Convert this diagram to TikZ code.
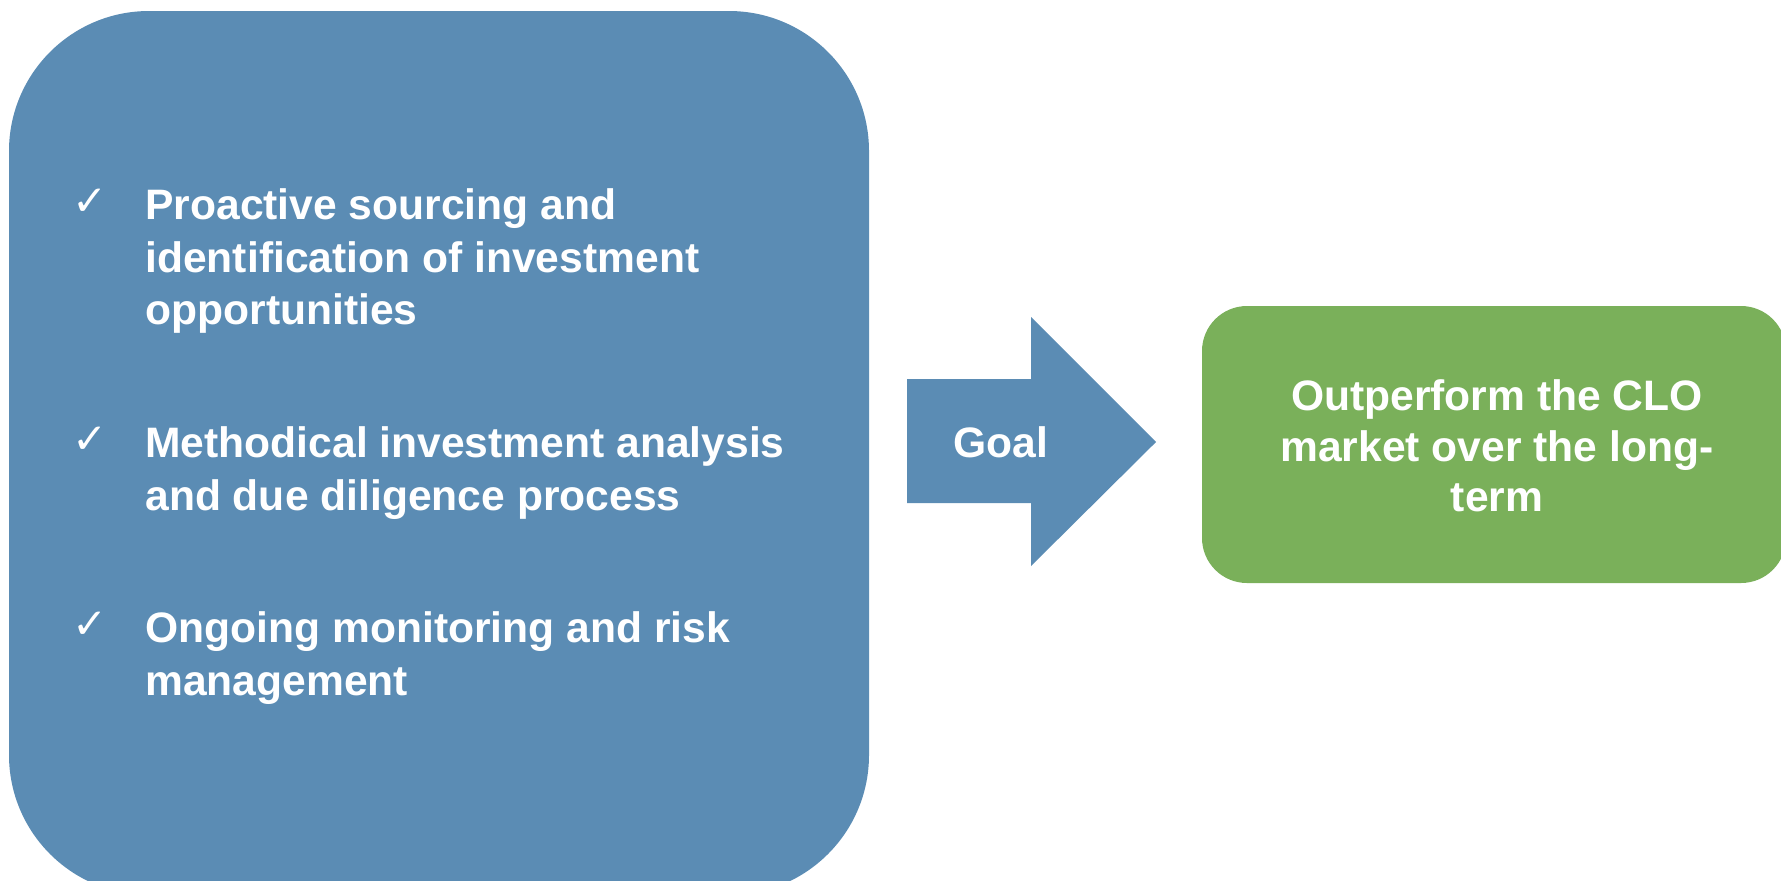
\documentclass[tikz,border=0pt]{standalone}
\usepackage{fontspec}
\setmainfont{Liberation Sans}
\newfontfamily\chkfont{DejaVu Sans}
\definecolor{boxblue}{RGB}{91,140,180}
\definecolor{boxgreen}{RGB}{122,176,90}
\begin{document}
\begin{tikzpicture}[x=0.5pt,y=-0.5pt,
  txt/.style={text=white,font=\fontsize{21.3}{25}\selectfont\bfseries,inner sep=0pt},
  chk/.style={text=white,font=\chkfont\fontsize{21}{25}\selectfont,inner sep=0pt}]
\useasboundingbox (0,0) rectangle (1781,880);
\begin{scope}
\clip (0,0) rectangle (1781,880);
\fill[boxblue,rounded corners=70pt] (9,11) rectangle (869,895);
\fill[boxblue] (907,379) -- (1031,379) -- (1031,317) -- (1156,442) -- (1031,566) -- (1031,503) -- (907,503) -- cycle;
\fill[boxgreen,rounded corners=22.5pt] (1202,306) rectangle (1786,583);
\end{scope}
% checks
\node[chk,anchor=base west] (c1) at (72,215) {✓};
\node[chk,anchor=base west] (c2) at (72,453) {✓};
\node[chk,anchor=base west] (c3) at (72,638) {✓};
% item texts
\node[txt,anchor=base west] (a1) at (145,219) {Proactive sourcing and};
\node[txt,anchor=base west] (a2) at (145,272) {identification of investment};
\node[txt,anchor=base west] (a3) at (145,324) {opportunities};
\node[txt,anchor=base west] (b1) at (145,457) {Methodical investment analysis};
\node[txt,anchor=base west] (b2) at (145,510) {and due diligence process};
\node[txt,anchor=base west] (d1) at (145,642) {Ongoing monitoring and risk};
\node[txt,anchor=base west] (d2) at (145,695) {management};
% goal
\node[txt,anchor=base] (goal) at (1001,457) {Goal};
% green text
\node[txt,anchor=base] (g1) at (1497,410) {Outperform the CLO};
\node[txt,anchor=base] (g2) at (1497,461) {market over the long-};
\node[txt,anchor=base] (g3) at (1497,511) {term};
\end{tikzpicture}
\end{document}
